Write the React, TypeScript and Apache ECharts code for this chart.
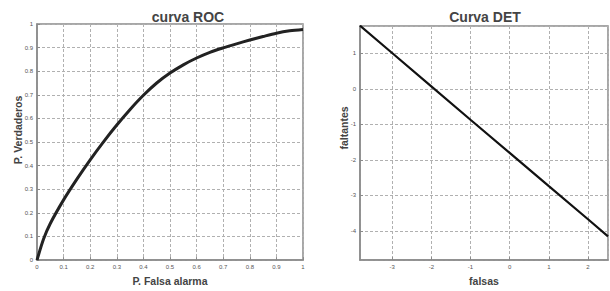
import React, { useEffect, useRef } from "react";
import * as echarts from "echarts";

const rocFalseAlarm = [0, 0.025, 0.05, 0.1, 0.15, 0.2, 0.25, 0.3, 0.35, 0.4, 0.45, 0.5, 0.55, 0.6, 0.65, 0.7, 0.75, 0.8, 0.85, 0.9, 0.95, 1];
const rocTruePos = [0, 0.09, 0.155, 0.255, 0.343, 0.425, 0.501, 0.572, 0.638, 0.698, 0.75, 0.792, 0.827, 0.856, 0.88, 0.899, 0.916, 0.932, 0.947, 0.961, 0.971, 0.977];

const detFalse = [-3.82, -3, -2, -1, 0, 1, 2, 2.51];
const detMissed = [1.78, 1.01, 0.07, -0.87, -1.8, -2.74, -3.67, -4.15];

const rocTicks = ["0", "0.1", "0.2", "0.3", "0.4", "0.5", "0.6", "0.7", "0.8", "0.9", "1"];

const FONT = "'Liberation Sans', Arial, sans-serif";

export default function App() {
  const ref = useRef<HTMLDivElement>(null);
  useEffect(() => {
    if (!ref.current) return;
    const chart = echarts.init(ref.current, null, { renderer: "svg" });
    const axisCommon = {
      axisLine: { show: true, onZero: false, lineStyle: { color: "#8a8a8a", width: 1.5 } },
      axisTick: { show: true, inside: true, length: 3, lineStyle: { color: "#8a8a8a" } },
      splitLine: { show: true, lineStyle: { color: "#b0b0b0", type: [3, 2], width: 1 } },
      axisLabel: { fontSize: 6, color: "#555", fontFamily: FONT, margin: 4 },
      nameLocation: "middle" as const,
      nameTextStyle: { fontSize: 10.5, fontWeight: "bold" as const, color: "#444", fontFamily: FONT },
    };
    const intLabel = (v: number) => (Math.abs(v - Math.round(v)) < 1e-6 ? String(Math.round(v)) : "");
    const rocLabel = (v: number) => {
      const i = Math.round(v * 10);
      return Math.abs(v * 10 - i) < 1e-6 ? rocTicks[i] : "";
    };
    const yName = (text: string, x: number, y: number) => ({
      type: "text",
      x,
      y,
      rotation: Math.PI / 2,
      style: {
        text,
        align: "center",
        verticalAlign: "middle",
        fontSize: 10.5,
        fontWeight: "bold",
        fontFamily: FONT,
        fill: "#444",
      },
    });
    chart.setOption({
      animation: false,
      backgroundColor: "#fff",
      title: [
        { text: "curva ROC", left: 183, top: 5, textAlign: "center", textStyle: { fontSize: 14, fontWeight: "bold", color: "#444", fontFamily: FONT } },
        { text: "Curva DET", left: 480, top: 5, textAlign: "center", textStyle: { fontSize: 14, fontWeight: "bold", color: "#444", fontFamily: FONT } },
      ],
      graphic: [yName("P. Verdaderos", 18, 130), yName("faltantes", 344, 128)],
      grid: [
        { left: 37, top: 24, width: 266, height: 239, show: true, borderColor: "#8a8a8a", borderWidth: 1.5, containLabel: false },
        { left: 360, top: 26, width: 248, height: 241, show: true, borderColor: "#8a8a8a", borderWidth: 1.5, containLabel: false },
      ],
      xAxis: [
        {
          ...axisCommon,
          type: "value", gridIndex: 0, min: 0, max: 1, interval: 0.1,
          name: "P. Falsa alarma", nameGap: 7,
          axisLabel: { ...axisCommon.axisLabel, formatter: rocLabel },
        },
        {
          ...axisCommon,
          type: "value", gridIndex: 1, min: -3.82, max: 2.51,
          name: "falsas", nameGap: 11,
          axisLabel: { ...axisCommon.axisLabel, formatter: intLabel, showMinLabel: false, showMaxLabel: false },
        },
      ],
      yAxis: [
        {
          ...axisCommon,
          type: "value", gridIndex: 0, min: 0, max: 1, interval: 0.1,
          axisLabel: { ...axisCommon.axisLabel, formatter: rocLabel },
        },
        {
          ...axisCommon,
          type: "value", gridIndex: 1, min: -4.82, max: 1.77,
          axisLabel: { ...axisCommon.axisLabel, formatter: intLabel, showMinLabel: false, showMaxLabel: false },
        },
      ],
      series: [
        {
          type: "line", xAxisIndex: 0, yAxisIndex: 0, smooth: 0.3, symbol: "none",
          lineStyle: { color: "#222", width: 3 },
          data: rocFalseAlarm.map((x, i) => [x, rocTruePos[i]]),
        },
        {
          type: "line", xAxisIndex: 1, yAxisIndex: 1, smooth: false, symbol: "none",
          lineStyle: { color: "#111", width: 2.2 },
          data: detFalse.map((x, i) => [x, detMissed[i]]),
        },
      ],
    });
    return () => chart.dispose();
  }, []);
  return <div ref={ref} style={{ position: "fixed", left: 0, top: 0, width: 610, height: 291 }} />;
}
